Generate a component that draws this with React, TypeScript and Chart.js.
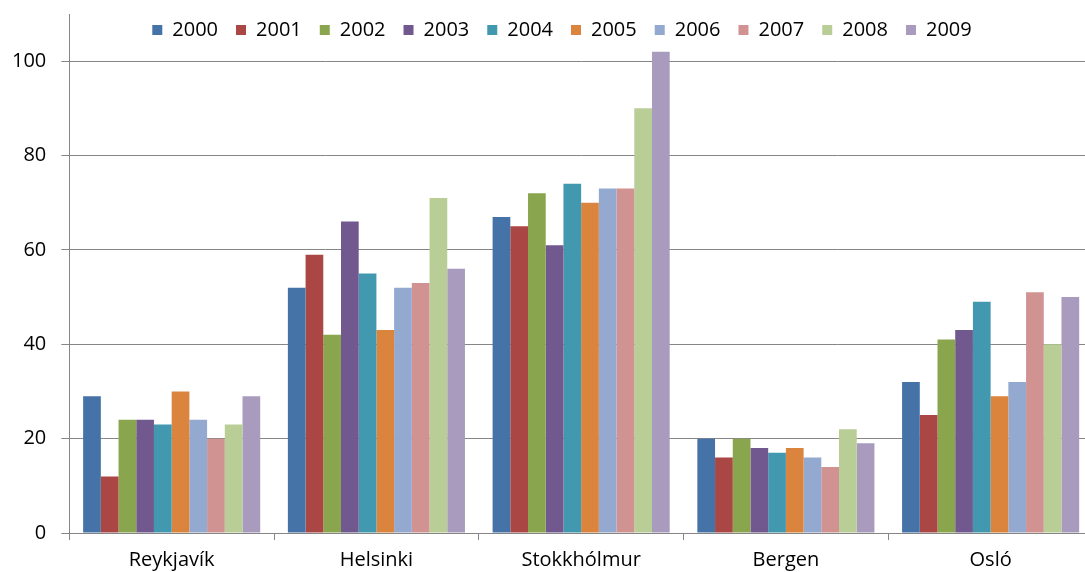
import React, { useEffect, useRef } from "react";
import { Chart, registerables } from "chart.js";

Chart.register(...registerables);

const CATEGORIES = ["Reykjavík", "Helsinki", "Stokkhólmur", "Bergen", "Osló"];
const YEARS = ["2000", "2001", "2002", "2003", "2004", "2005", "2006", "2007", "2008", "2009"];

const V2000 = [29, 52, 67, 20, 32];
const V2001 = [12, 59, 65, 16, 25];
const V2002 = [24, 42, 72, 20, 41];
const V2003 = [24, 66, 61, 18, 43];
const V2004 = [23, 55, 74, 17, 49];
const V2005 = [30, 43, 70, 18, 29];
const V2006 = [24, 52, 73, 16, 32];
const V2007 = [20, 53, 73, 14, 51];
const V2008 = [23, 71, 90, 22, 40];
const V2009 = [29, 56, 102, 19, 50];

const SERIES = [V2000, V2001, V2002, V2003, V2004, V2005, V2006, V2007, V2008, V2009];

const COLORS = [
  "#4572A7",
  "#AA4643",
  "#89A54E",
  "#71588F",
  "#4198AF",
  "#DB843D",
  "#93A9CF",
  "#D19392",
  "#B9CD96",
  "#A99BBD",
];

const Y_MIN = 0;
const Y_MAX = 110;
const Y_STEP = 20;
const Y_LAST_LABEL = 100;

const FONT = "'Open Sans', 'DejaVu Sans', sans-serif";
const GRID = "#868686";

const legendOverlap = {
  id: "legendOverlap",
  beforeLayout(chart: any) {
    const lg = chart.legend;
    if (lg && !lg.__patched) {
      const orig = lg.fit;
      lg.fit = function () {
        orig.call(this);
        this.height = 12;
      };
      lg.__patched = true;
    }
  },
  afterLayout(chart: any) {
    const lg = chart.legend;
    if (lg) {
      lg.height = 60;
      lg.bottom = lg.top + 60;
      lg.left = lg.left + 34;
    }
  },
};

export default function App() {
  const ref = useRef<HTMLCanvasElement | null>(null);

  useEffect(() => {
    if (!ref.current) return;
    const chart = new Chart(ref.current, {
      type: "bar",
      data: {
        labels: CATEGORIES,
        datasets: YEARS.map((y, i) => ({
          label: y,
          data: SERIES[i],
          backgroundColor: COLORS[i],
          borderWidth: 0,
          categoryPercentage: 0.865,
          barPercentage: 1,
        })),
      },
      options: {
        animation: false,
        responsive: true,
        maintainAspectRatio: false,
        layout: { padding: { left: -3, right: 0, top: 2, bottom: -8 } },
        plugins: {
          legend: {
            display: true,
            position: "top",
            align: "center",
            labels: {
              boxWidth: 10,
              boxHeight: 10,
              padding: 18,
              color: "#000",
              font: { family: FONT, size: 20 },
            },
          },
          tooltip: { enabled: false },
          title: { display: false },
        },
        scales: {
          x: {
            offset: true,
            grid: {
              display: true,
              offset: true,
              drawOnChartArea: false,
              drawTicks: true,
              tickLength: 7,
              color: GRID,
            },
            border: { display: true, color: GRID, width: 1 },
            ticks: {
              color: "#000",
              padding: 8,
              font: { family: FONT, size: 20 },
              maxRotation: 0,
            },
          },
          y: {
            min: Y_MIN,
            max: Y_MAX,
            afterBuildTicks: (scale: any) => {
              scale.ticks = scale.ticks.filter((t: any) => t.value <= Y_LAST_LABEL);
            },
            afterFit: (scale: any) => {
              scale.paddingTop = 0;
              scale.paddingBottom = 0;
            },
            grid: {
              display: true,
              drawOnChartArea: true,
              drawTicks: true,
              tickLength: 8,
              color: GRID,
            },
            border: { display: true, color: GRID, width: 1 },
            ticks: {
              stepSize: Y_STEP,
              color: "#000",
              padding: 15,
              font: { family: FONT, size: 20 },
            },
          },
        },
      },
      plugins: [legendOverlap],
    });
    return () => chart.destroy();
  }, []);

  return (
    <div
      style={{
        position: "fixed",
        left: 0,
        top: 0,
        width: 1085,
        height: 572,
        overflow: "hidden",
        background: "#fff",
      }}
    >
      <div style={{ position: "relative", width: 1093, height: 572 }}>
        <canvas ref={ref} />
      </div>
    </div>
  );
}
